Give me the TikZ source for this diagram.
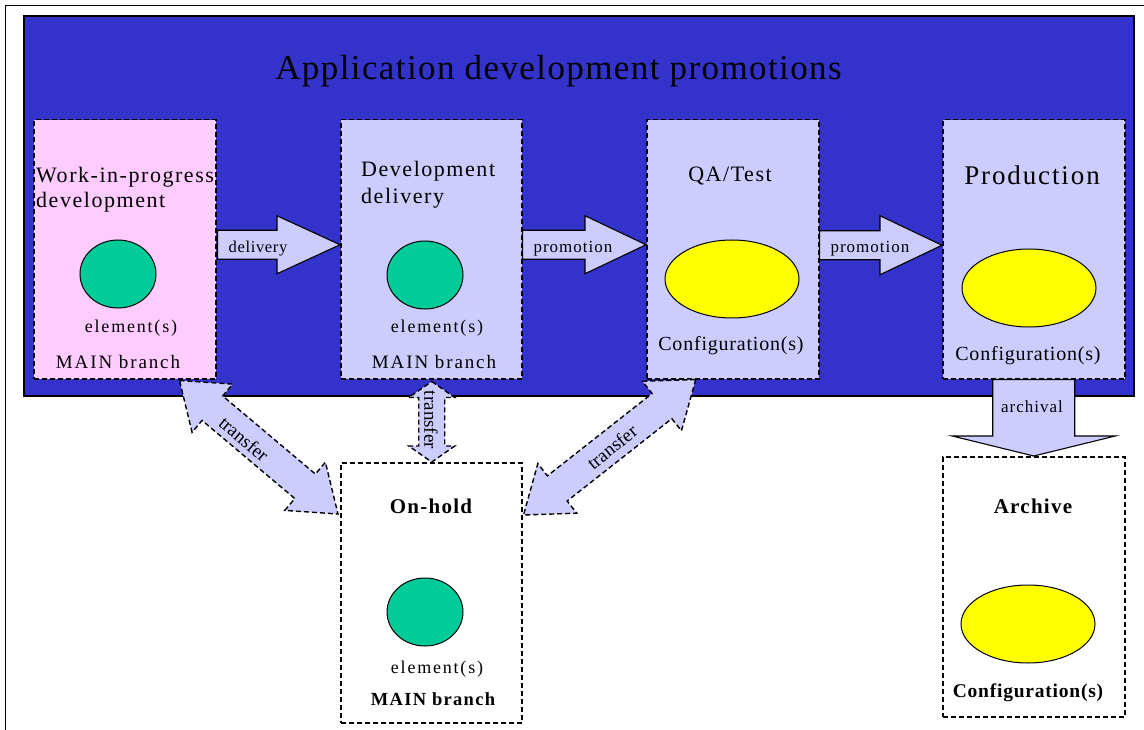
\documentclass[tikz,border=0pt]{standalone}
\usepackage{fontspec}
\setmainfont{Liberation Serif}
\newfontfamily\trk[LetterSpace=7]{Liberation Serif}
\newfontfamily\trkw[LetterSpace=10]{Liberation Serif}
\newfontfamily\trks[LetterSpace=4]{Liberation Serif}
\newfontfamily\trkm[LetterSpace=6]{Liberation Serif}
\usetikzlibrary{calc,shapes.geometric}
\definecolor{bgblue}{HTML}{3333CC}
\definecolor{lav}{HTML}{CCCCFF}
\definecolor{pinkbox}{HTML}{FFCCFF}
\definecolor{elgreen}{HTML}{00CC99}
\definecolor{cfyellow}{HTML}{FFFF00}
\newcommand\blkarrow[6]{%
  \coordinate (tmpH) at ($(#3)!#6!(#2)$);
  \path[#1] ($(#2)!#4!90:(#3)$) -- ($(tmpH)!#4!-90:(#2)$) -- ($(tmpH)!#5!-90:(#2)$) -- (#3)
    -- ($(tmpH)!#5!90:(#2)$) -- ($(tmpH)!#4!90:(#2)$) -- ($(#2)!#4!-90:(#3)$) -- cycle;
}
\newcommand\dblarrow[6]{%
  \coordinate (tmpP) at ($(#2)!#6!(#3)$);
  \coordinate (tmpQ) at ($(#3)!#6!(#2)$);
  \path[#1] (#2) -- ($(tmpP)!#5!90:(#3)$) -- ($(tmpP)!#4!90:(#3)$) -- ($(tmpQ)!#4!-90:(#2)$)
    -- ($(tmpQ)!#5!-90:(#2)$) -- (#3) -- ($(tmpQ)!#5!90:(#2)$) -- ($(tmpQ)!#4!90:(#2)$)
    -- ($(tmpP)!#4!-90:(#3)$) -- ($(tmpP)!#5!-90:(#3)$) -- cycle;
}
\begin{document}
\begin{tikzpicture}[x=1pt,y=-1pt,
  stagebox/.style={draw=black, dash pattern=on 5pt off 3pt, line width=1.5pt, inner sep=0pt, anchor=north west},
  elem/.style={ellipse, draw=black, line width=1pt, fill=elgreen, minimum width=76pt, minimum height=68pt, inner sep=0pt},
  conf/.style={ellipse, draw=black, line width=1pt, fill=cfyellow, minimum width=134pt, minimum height=78pt, inner sep=0pt},
  txt/.style={inner sep=0pt, anchor=base},
  solidarrow/.style={draw=black, line width=1.1pt, fill=lav, line join=miter},
  transferarrow/.style={draw=black, line width=1.4pt, dash pattern=on 5pt off 3pt, fill=lav, line join=miter},
]
\useasboundingbox (0,0) rectangle (1144,730);
\fill[white] (0,0) rectangle (1144,730);
% outer frame (cropped)
\draw[line width=1pt] (5,731) -- (5,6) -- (1145,6);
% blue panel
\path[draw=black, line width=1.8pt, fill=bgblue] (24,16) rectangle (1134,396);
\node[txt, font={\trks\fontsize{35}{40}\selectfont}] (title) at (558.5,80) {Application development promotions};

% stage boxes
\node[stagebox, fill=pinkbox, minimum width=182pt, minimum height=259pt] (wip) at (33,119) {};
\node[stagebox, fill=lav, minimum width=181pt, minimum height=259pt] (dev) at (340,119) {};
\node[stagebox, fill=lav, minimum width=172pt, minimum height=259pt] (qa) at (646,119) {};
\node[stagebox, fill=lav, minimum width=182pt, minimum height=259pt] (prod) at (942,119) {};
\node[stagebox, fill=white, minimum width=181pt, minimum height=260pt] (hold) at (340,462) {};
\node[stagebox, fill=white, minimum width=182pt, minimum height=260pt] (arch) at (942,456) {};

% ellipses
\node[elem] (e1) at (118,274) {};
\node[elem] (e2) at (425,275) {};
\node[conf] (c1) at (732,279) {};
\node[conf] (c2) at (1029,288) {};
\node[elem] (e3) at (425,612) {};
\node[conf] (c3) at (1028,624) {};

% box titles
\node[txt, anchor=base west, font={\trk\fontsize{22}{26}\selectfont}] (wipt1) at (36,183) {Work-in-progress};
\node[txt, anchor=base west, font={\trk\fontsize{22}{26}\selectfont}] (wipt2) at (36,208) {development};
\node[txt, anchor=base west, font={\trk\fontsize{22}{26}\selectfont}] (devt1) at (361,177) {Development};
\node[txt, anchor=base west, font={\trk\fontsize{22}{26}\selectfont}] (devt2) at (361,204) {delivery};
\node[txt, font={\trk\fontsize{22}{26}\selectfont}] (qat) at (730,182) {QA/Test};
\node[txt, font={\trk\fontsize{27}{32}\selectfont}] (prodt) at (1032,185) {Production};
\node[txt, font={\trkm\bfseries\fontsize{21}{25}\selectfont}] (holdt) at (431,513) {On-hold};
\node[txt, font={\trkm\bfseries\fontsize{21}{25}\selectfont}] (archt) at (1033,513) {Archive};

% box captions
\node[txt, font={\trkw\fontsize{18}{21}\selectfont}] (el1) at (131,333) {element(s)};
\node[txt, font={\trkw\fontsize{18}{21}\selectfont}] (el2) at (437,333) {element(s)};
\node[txt, font={\trkw\fontsize{18}{21}\selectfont}] (el3) at (437,673) {element(s)};
\node[txt, font={\trkw\fontsize{19}{22}\selectfont}] (mb1) at (118,368) {MAIN branch};
\node[txt, font={\trkw\fontsize{19}{22}\selectfont}] (mb2) at (434,368) {MAIN branch};
\node[txt, font={\trk\bfseries\fontsize{18.5}{22}\selectfont}] (mb3) at (433,705) {MAIN branch};
\node[txt, font={\trks\fontsize{20}{24}\selectfont}] (cf1) at (731,350) {Configuration(s)};
\node[txt, font={\trks\fontsize{20}{24}\selectfont}] (cf2) at (1028,360) {Configuration(s)};
\node[txt, font={\trks\bfseries\fontsize{19.5}{24}\selectfont}] (cf3) at (1028,697) {Configuration(s)};

% arrow end points
\coordinate (dA) at ($(wip.east)+(1,-4.5)$);
\coordinate (dB) at ($(dev.west)+(0,-4.5)$);
\coordinate (p1A) at ($(dev.east)+(0,-4.5)$);
\coordinate (p1B) at ($(qa.west)+(0,-4.5)$);
\coordinate (p2A) at ($(qa.east)+(0,-4)$);
\coordinate (p2B) at ($(prod.west)+(0,-4)$);
\coordinate (arA) at (prod.south);
\coordinate (arB) at (arch.north);
\coordinate (t1A) at ($(wip.south east)+(-37,1)$);
\coordinate (t1B) at ($(hold.north west)+(-2,52)$);
\coordinate (t2A) at ($(dev.south)+(0.5,2)$);
\coordinate (t2B) at ($(hold.north)+(0.5,0)$);
\coordinate (t3A) at ($(qa.south)+(-37,0)$);
\coordinate (t3B) at ($(hold.north east)+(1,53)$);

% block arrows
\blkarrow{solidarrow}{dA}{dB}{14.5pt}{29pt}{63pt}
\blkarrow{solidarrow}{p1A}{p1B}{14.5pt}{29pt}{61pt}
\blkarrow{solidarrow}{p2A}{p2B}{14.5pt}{29.5pt}{62pt}
\blkarrow{solidarrow}{arA}{arB}{41pt}{81.5pt}{20pt}
\dblarrow{transferarrow}{t1A}{t1B}{16pt}{31.5pt}{43pt}
\dblarrow{transferarrow}{t2A}{t2B}{13pt}{23pt}{16pt}
\dblarrow{transferarrow}{t3A}{t3B}{16pt}{31.5pt}{43pt}

% arrow labels
\node[txt, font={\trks\fontsize{16.5}{19}\selectfont}] (ldel) at (258,253) {delivery};
\node[txt, font={\trkm\fontsize{17}{20}\selectfont}] (lpro1) at (573,253) {promotion};
\node[txt, font={\trkm\fontsize{17}{20}\selectfont}] (lpro2) at (870,253) {promotion};
\node[txt, font={\trkm\fontsize{17}{20}\selectfont}] (larc) at (1032,412) {archival};
\node[inner sep=0pt, rotate=-40, font={\fontsize{19}{22}\selectfont}] (ltr1) at (244,439) {transfer};
\node[inner sep=0pt, rotate=-90, font={\fontsize{19}{22}\selectfont}] (ltr2) at (431,420) {transfer};
\node[inner sep=0pt, rotate=39, font={\fontsize{19}{22}\selectfont}] (ltr3) at (612,447) {transfer};
\end{tikzpicture}
\end{document}
